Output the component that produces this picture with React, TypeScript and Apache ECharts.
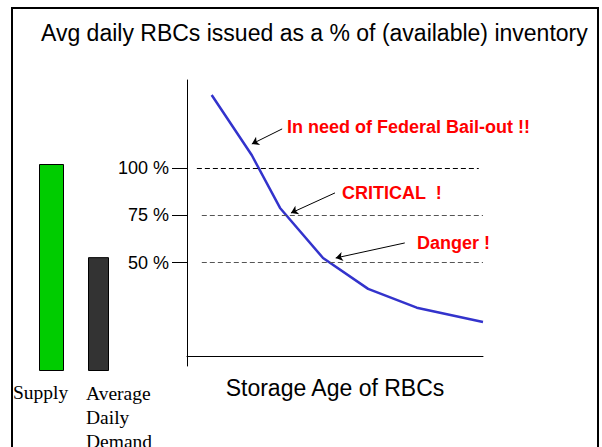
import React, { useEffect, useRef } from "react";
import * as echarts from "echarts";

const titleText = "Avg daily RBCs issued as a % of (available) inventory";
const barCategories = ["Supply", "Average Daily Demand"];
const barValues = [100, 55];
const storageAge = [3.5, 9.2, 13.2, 19.3, 25.7, 32.6, 42];
const issuedPct = [139, 107, 79, 52.4, 36, 26, 18.4];
const thresholdValues = [100, 75, 50];
const thresholdStart = [1.4, 2.1, 2.1];
const thresholdEnd = [41.4, 42, 42];
const annotationTexts = ["In need of Federal Bail-out !!", "CRITICAL  !", "Danger !"];
const arrowFrom = [[13.5, 121], [21.0, 87], [30.9, 60.4]];
const arrowTo = [[9.2, 113], [14.75, 76.3], [21.1, 52.4]];
const xAxisName = "Storage Age of RBCs";

export default function App() {
  const ref = useRef<HTMLDivElement>(null);
  useEffect(() => {
    if (!ref.current) return;
    const chart = echarts.init(ref.current, null, { renderer: "svg" });
    const sans = "Liberation Sans, Arial, sans-serif";
    const serif = "Liberation Serif, Times New Roman, serif";
    const option: any = {
      animation: false,
      backgroundColor: "#ffffff",
      title: {
        text: titleText,
        left: 36,
        top: 16,
        textStyle: { fontFamily: sans, fontSize: 23, fontWeight: "normal", color: "#000" },
      },
      grid: [
        { left: 39, top: 164, width: 25, height: 207 },
        { left: 88, top: 164, width: 21, height: 207 },
        { left: 187, top: 80, width: 296, height: 286 },
      ],
      xAxis: [
        { gridIndex: 0, type: "category", data: [barCategories[0]], show: false },
        { gridIndex: 1, type: "category", data: [barCategories[1]], show: false },
        {
          gridIndex: 2,
          type: "value",
          min: 0,
          max: 42,
          axisLine: { show: true, lineStyle: { color: "#000", width: 1 } },
          axisTick: { show: false },
          axisLabel: { show: false },
          splitLine: { show: false },
          name: xAxisName,
          nameLocation: "middle",
          nameGap: 10,
          nameTextStyle: { fontFamily: sans, fontSize: 23, color: "#000", verticalAlign: "top" },
        },
      ],
      yAxis: [
        { gridIndex: 0, type: "value", min: 0, max: 100, show: false },
        { gridIndex: 1, type: "value", min: 0, max: 100, show: false },
        {
          gridIndex: 2,
          type: "value",
          min: -5,
          max: 147,
          axisLine: { show: true, lineStyle: { color: "#000", width: 1 } },
          axisTick: {
            show: true,
            length: 15,
            customValues: thresholdValues,
            lineStyle: { color: "#000", width: 1 },
          },
          axisLabel: {
            show: true,
            customValues: thresholdValues,
            formatter: (v: number) => `${v} %`,
            fontFamily: sans,
            fontSize: 18,
            color: "#000",
            margin: 18,
            padding: [0, 0, 8, 0],
          },
          splitLine: { show: false },
        },
      ],
      series: [
        {
          type: "bar",
          name: barCategories[0],
          xAxisIndex: 0,
          yAxisIndex: 0,
          data: [barValues[0]],
          barWidth: "100%",
          itemStyle: { color: "#00cc00", borderColor: "#000", borderWidth: 1 },
        },
        {
          type: "bar",
          name: barCategories[1],
          xAxisIndex: 1,
          yAxisIndex: 1,
          data: [barValues[1]],
          barWidth: "100%",
          itemStyle: { color: "#333333", borderColor: "#000", borderWidth: 1 },
        },
        {
          type: "line",
          xAxisIndex: 2,
          yAxisIndex: 2,
          data: storageAge.map((x, i) => [x, issuedPct[i]]),
          showSymbol: false,
          symbol: "none",
          clip: false,
          lineStyle: { color: "#3333cc", width: 2.5 },
          markLine: {
            silent: true,
            symbol: ["none", "none"],
            label: { show: false },
            data: thresholdValues.map((v, i) => [
              {
                coord: [thresholdStart[i], v],
                lineStyle: { color: i === 0 ? "#000" : "#555", width: 1, type: [5, 3] },
              },
              { coord: [thresholdEnd[i], v] },
            ]),
          },
        },
        {
          type: "line",
          xAxisIndex: 2,
          yAxisIndex: 2,
          data: [],
          clip: false,
          markLine: {
            silent: true,
            symbol: ["none", "arrow"],
            symbolSize: 7,
            label: { show: false },
            lineStyle: { color: "#000", width: 1, type: "solid" },
            data: arrowFrom.map((f, i) => [{ coord: f }, { coord: arrowTo[i] }]),
          },
        },
      ],
      graphic: [
        {
          type: "rect",
          shape: { x: 12, y: 8, width: 586, height: 470 },
          style: { fill: "none", stroke: "#000", lineWidth: 2 },
          silent: true,
        },
        {
          type: "text",
          x: 287,
          y: 127,
          style: { text: annotationTexts[0], fill: "#ff0000", font: `bold 18px ${sans}`, verticalAlign: "middle" },
        },
        {
          type: "text",
          x: 342,
          y: 193,
          style: { text: annotationTexts[1], fill: "#ff0000", font: `bold 18px ${sans}`, verticalAlign: "middle" },
        },
        {
          type: "text",
          x: 417,
          y: 243,
          style: { text: annotationTexts[2], fill: "#ff0000", font: `bold 18px ${sans}`, verticalAlign: "middle" },
        },
        {
          type: "text",
          x: 13,
          y: 392,
          style: { text: barCategories[0], fill: "#000", font: `19.5px ${serif}`, verticalAlign: "middle" },
        },
        {
          type: "text",
          x: 86,
          y: 381,
          style: {
            text: barCategories[1].split(" ").join("\n"),
            fill: "#000",
            font: `19.5px ${serif}`,
            lineHeight: 24,
            verticalAlign: "top",
          },
        },
      ],
    };
    chart.setOption(option);
    return () => chart.dispose();
  }, []);
  return (
    <div
      ref={ref}
      style={{ position: "fixed", left: 0, top: 0, width: 602, height: 447 }}
    />
  );
}
